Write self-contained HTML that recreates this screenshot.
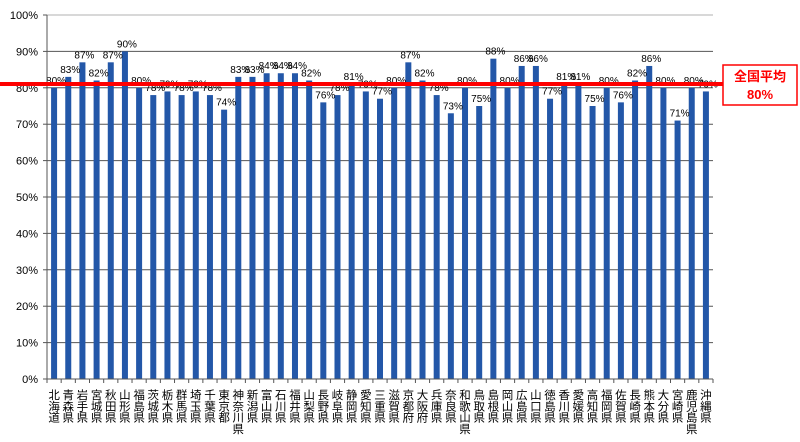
<!DOCTYPE html>
<html><head><meta charset="utf-8"><style>
body{margin:0;background:#fff;}
svg text{font-family:"Liberation Sans","Noto Sans CJK JP",sans-serif;}
</style></head><body>
<svg width="800" height="437" xmlns="http://www.w3.org/2000/svg">
<g id="grid"></g>
<g id="bars"></g>
<g id="labels"></g>
<g id="yt"></g>
<g id="xt"></g>
<line x1="0" y1="84" x2="724" y2="84" stroke="#ff0000" stroke-width="4"/>
<g>
<rect x="723" y="65" width="74" height="40" fill="#fff" stroke="#ff0000" stroke-width="1.5"/>
<text x="760" y="81" text-anchor="middle" font-size="13" font-weight="bold" fill="#ff0000">全国平均</text>
<text x="760" y="99" text-anchor="middle" font-size="13" font-weight="bold" fill="#ff0000">80%</text>
</g>
</svg>
<script>
const categories=["北海道","青森県","岩手県","宮城県","秋田県","山形県","福島県","茨城県","栃木県","群馬県","埼玉県","千葉県","東京都","神奈川県","新潟県","富山県","石川県","福井県","山梨県","長野県","岐阜県","静岡県","愛知県","三重県","滋賀県","京都府","大阪府","兵庫県","奈良県","和歌山県","鳥取県","島根県","岡山県","広島県","山口県","徳島県","香川県","愛媛県","高知県","福岡県","佐賀県","長崎県","熊本県","大分県","宮崎県","鹿児島県","沖縄県"];
const values=[80,83,87,82,87,90,80,78,79,78,79,78,74,83,83,84,84,84,82,76,78,81,79,77,80,87,82,78,73,80,75,88,80,86,86,77,81,81,75,80,76,82,86,80,71,80,79];
const yTicks=[0,10,20,30,40,50,60,70,80,90,100];
const NS="http://www.w3.org/2000/svg";
const X0=47,X1=713,Y0=379,Y1=15;
const step=(X1-X0)/categories.length;
const xc=i=>X0+step*(i+0.5);
const y=v=>Y0-(v/100)*(Y0-Y1);
function mk(t,a,p){const e=document.createElementNS(NS,t);for(const k in a)e.setAttribute(k,a[k]);p.appendChild(e);return e;}
const grid=document.getElementById('grid'),bars=document.getElementById('bars'),lab=document.getElementById('labels'),yt=document.getElementById('yt'),xt=document.getElementById('xt');
yTicks.forEach(t=>{
 const l=mk('line',{x1:X0,x2:X1,y1:y(t),y2:y(t),stroke:t==100?'#b0b0b0':'#555','stroke-width':1},grid);
 
 
 mk('line',{x1:X0-4,x2:X0,y1:y(t),y2:y(t),stroke:'#555'},yt);
 const tx=mk('text',{x:38,y:y(t)+4,'text-anchor':'end','font-size':11,fill:'#000'},yt);
 tx.textContent=t+'%';
 
 
});
mk('line',{x1:X0,x2:X0,y1:Y1,y2:Y0,stroke:'#555'},yt);
categories.forEach((c,i)=>{
 const v=values[i];
 const r=mk('rect',{x:xc(i)-3,y:y(v),width:6,height:Y0-y(v),fill:'#2357a8'},bars);
 
 
 const t=mk('text',{x:xc(i)+2,y:y(v)-4,'text-anchor':'middle','font-size':10,fill:'#000'},lab);
 t.textContent=v+'%';
 
 
 mk('line',{x1:X0+step*i,x2:X0+step*i,y1:Y0,y2:Y0+4,stroke:'#555'},xt);
 const g=mk('text',{'font-size':11.5,fill:'#000','text-anchor':'middle'},xt);
 
 
 [...c].forEach((ch,k)=>{const s=mk('tspan',{x:xc(i),y:399+k*11.3},g);s.textContent=ch;});
});
mk('line',{x1:X1,x2:X1,y1:Y0,y2:Y0+4,stroke:'#555'},xt);
mk('line',{x1:X0,x2:X1,y1:Y0,y2:Y0,stroke:'#555'},xt);
</script>
</body></html>
